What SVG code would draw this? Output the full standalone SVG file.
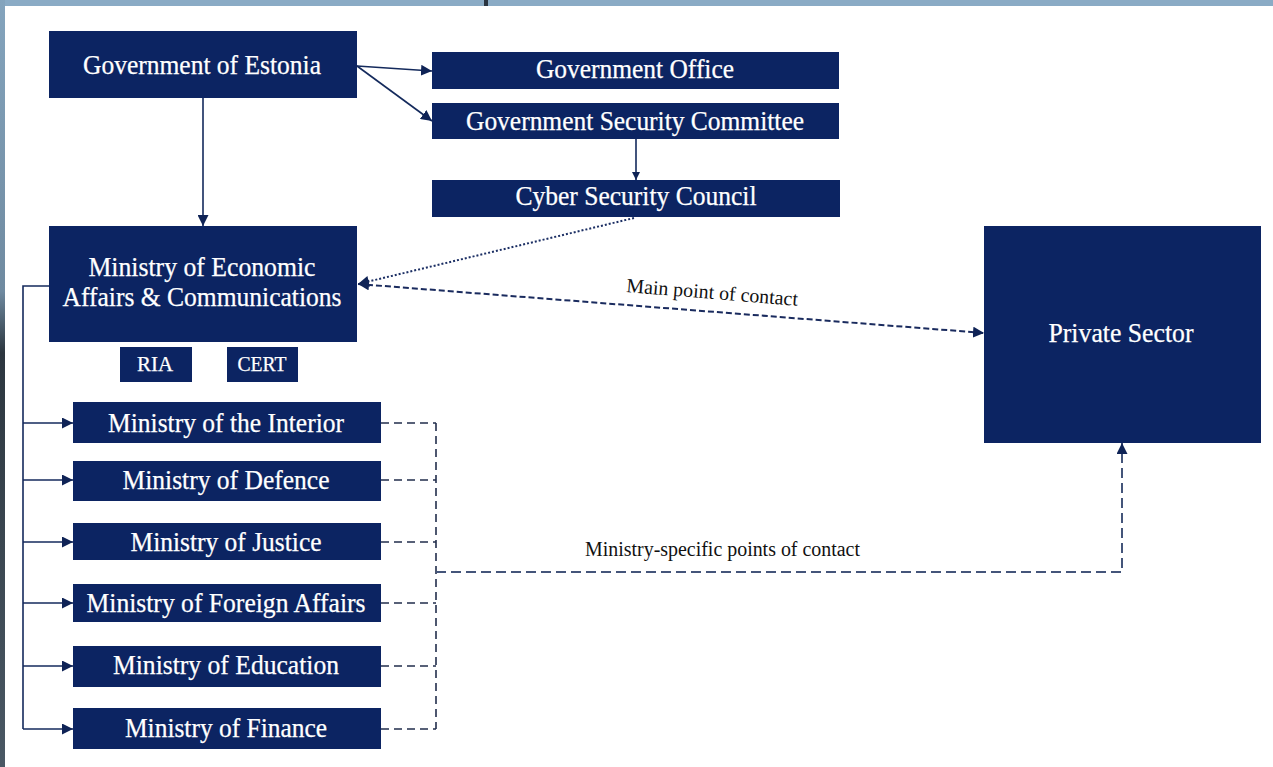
<svg xmlns="http://www.w3.org/2000/svg" width="1273" height="767" viewBox="0 0 1273 767">
  <defs>
    <linearGradient id="edgeLeft" x1="0" y1="0" x2="0" y2="1">
      <stop offset="0" stop-color="#84a4bd"/>
      <stop offset="0.38" stop-color="#6f8aa0"/>
      <stop offset="0.46" stop-color="#2c363f"/>
      <stop offset="0.7" stop-color="#3a4650"/>
      <stop offset="1" stop-color="#4a5864"/>
    </linearGradient>
    <marker id="arrow" viewBox="0 0 10 10" refX="10" refY="5" markerWidth="11" markerHeight="11" markerUnits="userSpaceOnUse" orient="auto-start-reverse">
      <path d="M0,0 L10,5 L0,10 z" fill="#0f2356"/>
    </marker>
    <marker id="arrowSmall" viewBox="0 0 10 10" refX="10" refY="5" markerWidth="8" markerHeight="8" markerUnits="userSpaceOnUse" orient="auto">
      <path d="M0,0 L10,5 L0,10 z" fill="#0f2356"/>
    </marker>
    <style>
      .box { fill: #0c2462; }
      .lbl { font-family: "Liberation Serif", "Times New Roman", serif; font-size: 26.5px; fill: #ffffff; text-anchor: middle; stroke: #ffffff; stroke-width: 0.25; }
      .sm { font-size: 21px; }
      .note { font-family: "Liberation Serif", "Times New Roman", serif; font-size: 20px; fill: #111111; }
      .solid { fill: none; stroke: #142a5c; stroke-width: 1.6; }
      .dotted { fill: none; stroke: #1c2f64; stroke-width: 2; stroke-dasharray: 2 2; }
      .dashed { fill: none; stroke: #1a2b5e; stroke-width: 2; stroke-dasharray: 6 3; }
      .mdash { fill: none; stroke: #222e4c; stroke-width: 1.6; stroke-dasharray: 8 5; }
      .pdash { fill: none; stroke: #44557a; stroke-width: 2; stroke-dasharray: 10 5; }
    </style>
  </defs>

  <!-- page and surrounding frame -->
  <rect x="0" y="0" width="1273" height="767" fill="#ffffff"/>
  <rect x="0" y="0" width="1273" height="6" fill="#8aabc5"/>
  <rect x="0" y="0" width="5" height="767" fill="url(#edgeLeft)"/>
  <rect x="484" y="0" width="4" height="6" fill="#2a3440"/>

  <!-- connectors -->
  <g id="connectors">
    <line class="solid" x1="357" y1="66" x2="432" y2="71" marker-end="url(#arrow)"/>
    <line class="solid" x1="357" y1="66" x2="432" y2="121" marker-end="url(#arrow)"/>
    <line class="solid" x1="203" y1="98" x2="203" y2="226" marker-end="url(#arrow)"/>
    <line class="solid" x1="636" y1="139" x2="636" y2="180" marker-end="url(#arrowSmall)"/>
    <line class="dotted" x1="634" y1="218" x2="358" y2="284" marker-end="url(#arrow)"/>
    <line class="dashed" x1="358" y1="284" x2="984" y2="333" marker-start="url(#arrow)" marker-end="url(#arrow)"/>

    <!-- branch from the ministry of economic affairs to each ministry -->
    <polyline class="solid" points="49,286 23,286 23,729"/>
    <line class="solid" x1="23" y1="423" x2="73" y2="423" marker-end="url(#arrow)"/>
    <line class="solid" x1="23" y1="480" x2="73" y2="480" marker-end="url(#arrow)"/>
    <line class="solid" x1="23" y1="542" x2="73" y2="542" marker-end="url(#arrow)"/>
    <line class="solid" x1="23" y1="603" x2="73" y2="603" marker-end="url(#arrow)"/>
    <line class="solid" x1="23" y1="666" x2="73" y2="666" marker-end="url(#arrow)"/>
    <line class="solid" x1="23" y1="729" x2="73" y2="729" marker-end="url(#arrow)"/>

    <!-- ministry-specific contact lines -->
    <line class="mdash" x1="381" y1="423" x2="436" y2="423"/>
    <line class="mdash" x1="381" y1="480" x2="436" y2="480"/>
    <line class="mdash" x1="381" y1="542" x2="436" y2="542"/>
    <line class="mdash" x1="381" y1="603" x2="436" y2="603"/>
    <line class="mdash" x1="381" y1="666" x2="436" y2="666"/>
    <line class="mdash" x1="381" y1="729" x2="436" y2="729"/>
    <line class="mdash" x1="436" y1="423" x2="436" y2="729"/>
    <polyline class="pdash" points="436,572 1122,572 1122,443" marker-end="url(#arrow)"/>

    <text class="note" transform="translate(626,292) rotate(4.6)" textLength="172" lengthAdjust="spacingAndGlyphs">Main point of contact</text>
    <text class="note" x="585" y="556" textLength="275" lengthAdjust="spacingAndGlyphs">Ministry-specific points of contact</text>
  </g>

  <!-- nodes -->
  <g id="gov-estonia">
    <rect class="box" x="49" y="31" width="308" height="67"/>
    <text class="lbl" x="202" y="74" textLength="238" lengthAdjust="spacingAndGlyphs">Government of Estonia</text>
  </g>
  <g id="gov-office">
    <rect class="box" x="432" y="52" width="407" height="37"/>
    <text class="lbl" x="635" y="78" textLength="198" lengthAdjust="spacingAndGlyphs">Government Office</text>
  </g>
  <g id="gov-security-committee">
    <rect class="box" x="432" y="103" width="407" height="36"/>
    <text class="lbl" x="635" y="130" textLength="338" lengthAdjust="spacingAndGlyphs">Government Security Committee</text>
  </g>
  <g id="cyber-security-council">
    <rect class="box" x="432" y="180" width="408" height="37"/>
    <text class="lbl" x="636" y="205" textLength="241" lengthAdjust="spacingAndGlyphs">Cyber Security Council</text>
  </g>
  <g id="ministry-economic">
    <rect class="box" x="49" y="226" width="308" height="116"/>
    <text class="lbl" x="202" y="276" textLength="227" lengthAdjust="spacingAndGlyphs">Ministry of Economic</text>
    <text class="lbl" x="202" y="306" textLength="279" lengthAdjust="spacingAndGlyphs">Affairs &amp; Communications</text>
  </g>
  <g id="ria">
    <rect class="box" x="120" y="347" width="72" height="35"/>
    <text class="lbl sm" x="155" y="371" textLength="36" lengthAdjust="spacingAndGlyphs">RIA</text>
  </g>
  <g id="cert">
    <rect class="box" x="227" y="347" width="71" height="35"/>
    <text class="lbl sm" x="262" y="371" textLength="49" lengthAdjust="spacingAndGlyphs">CERT</text>
  </g>
  <g id="ministry-interior">
    <rect class="box" x="73" y="402" width="308" height="41"/>
    <text class="lbl" x="226" y="432" textLength="236" lengthAdjust="spacingAndGlyphs">Ministry of the Interior</text>
  </g>
  <g id="ministry-defence">
    <rect class="box" x="73" y="461" width="308" height="40"/>
    <text class="lbl" x="226" y="489" textLength="207" lengthAdjust="spacingAndGlyphs">Ministry of Defence</text>
  </g>
  <g id="ministry-justice">
    <rect class="box" x="73" y="523" width="308" height="37"/>
    <text class="lbl" x="226" y="551" textLength="191" lengthAdjust="spacingAndGlyphs">Ministry of Justice</text>
  </g>
  <g id="ministry-foreign">
    <rect class="box" x="73" y="584" width="308" height="38"/>
    <text class="lbl" x="226" y="612" textLength="279" lengthAdjust="spacingAndGlyphs">Ministry of Foreign Affairs</text>
  </g>
  <g id="ministry-education">
    <rect class="box" x="73" y="646" width="308" height="41"/>
    <text class="lbl" x="226" y="674" textLength="226" lengthAdjust="spacingAndGlyphs">Ministry of Education</text>
  </g>
  <g id="ministry-finance">
    <rect class="box" x="73" y="708" width="308" height="41"/>
    <text class="lbl" x="226" y="737" textLength="202" lengthAdjust="spacingAndGlyphs">Ministry of Finance</text>
  </g>
  <g id="private-sector">
    <rect class="box" x="984" y="226" width="277" height="217"/>
    <text class="lbl" x="1121" y="342" textLength="145" lengthAdjust="spacingAndGlyphs">Private Sector</text>
  </g>
</svg>
